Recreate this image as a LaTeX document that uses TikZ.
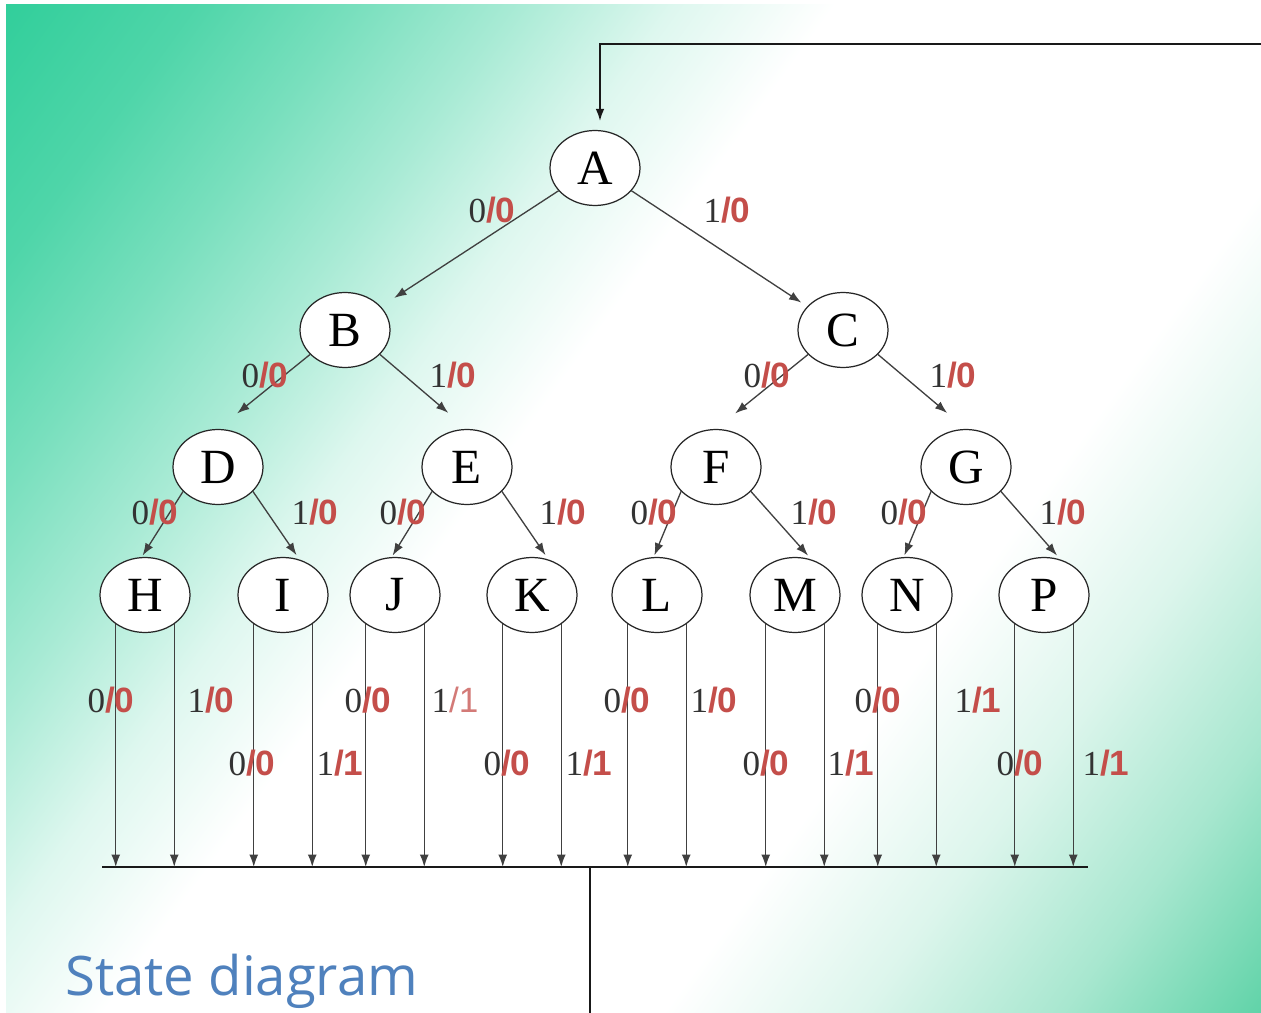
\documentclass[tikz,border=0pt]{standalone}
\usepackage{fontspec}
\setmainfont{Liberation Serif}
\newfontfamily\etichetta{Liberation Sans}
\newfontfamily\titolofont{Open Sans}
\usetikzlibrary{shapes.geometric,arrows.meta}

\definecolor{verde}{RGB}{48,206,154}
\definecolor{verdechiaro}{RGB}{96,211,168}
\definecolor{rosso}{RGB}{196,78,74}
\definecolor{grigio}{RGB}{51,51,51}
\definecolor{blu}{RGB}{79,129,189}

% la parte visibile della sfumatura va da 25bp a 75bp
\pgfdeclarehorizontalshading{sfondo}{100bp}{color(0bp)=(verde); color(25bp)=(verde);
  color(30bp)=(verde!85!white); color(34bp)=(verde!65!white); color(38bp)=(verde!42!white);
  color(42bp)=(verde!16!white); color(46bp)=(white); color(60bp)=(white);
  color(65bp)=(verdechiaro!22!white); color(70bp)=(verdechiaro!55!white);
  color(75bp)=(verdechiaro); color(100bp)=(verdechiaro)}

% ingresso/uscita: cifra in serif, "/uscita" in rosso
\newcommand{\io}[2]{{\color{grigio}#1}{\etichetta\bfseries\color{rosso}/#2}}
\newcommand{\iochiaro}[2]{{\color{grigio}#1}{\etichetta\color{rosso!75}/#2}}

\begin{document}
\begin{tikzpicture}[
    x=0.02cm,y=-0.02cm,
    stato/.style={ellipse,draw=black!85,line width=0.7pt,fill=white,
      minimum width=1.8cm,minimum height=1.5cm,inner sep=0pt,
      font=\fontsize{28}{30}\selectfont},
    freccia/.style={draw=black!75,line width=0.75pt,-{Latex[length=7pt,width=5pt]}},
    uscita/.style={font=\fontsize{20}{22}\selectfont,inner sep=0pt},
    linea/.style={draw=black!90,line width=1.1pt}]

  \useasboundingbox (0,0) rectangle (1261,1013);

  % ---- sfondo sfumato --------------------------------------------------------
  \fill[white] (0,0) rectangle (1261,1013);
  \begin{scope}
    \clip (6,5) rectangle (1261,1013);
    \begin{scope}[transform canvas={rotate=-36}]
      \shade[shading=sfondo,overlay] (0,-760) rectangle (1616,840);
    \end{scope}
  \end{scope}

  % ---- stati ------------------------------------------------------------------
  \node[stato] (A) at (595,168) {A};
  \node[stato] (B) at (345,330) {B};
  \node[stato] (C) at (843,330) {C};
  \node[stato] (D) at (218,467) {D};
  \node[stato] (E) at (467,467) {E};
  \node[stato] (F) at (716,467) {F};
  \node[stato] (G) at (966,467) {G};
  \foreach \n/\x in {H/145,I/283,J/395,K/532,L/657,M/795,N/907,P/1044}
    \node[stato] (\n) at (\x,595) {\n};

  % ---- transizioni dell'albero --------------------------------------------------
  \draw[freccia,shorten >=9pt] (A.-148) -- (B);
  \draw[freccia,shorten >=4pt] (A.-32) -- (C);
  \foreach \p/\a/\b in {B/D/E,C/F/G} {
    \draw[freccia,shorten >=14pt] (\p.-145) -- (\a.north);
    \draw[freccia,shorten >=14pt] (\p.-35) -- (\b.north);
  }
  \foreach \p/\a/\b in {D/H/I,E/J/K,F/L/M,G/N/P} {
    \draw[freccia,shorten >=1pt] (\p.-145) -- (\a.95);
    \draw[freccia,shorten >=3pt] (\p.-35) -- (\b.65);
  }

  \node[uscita] (lAB) at (492,210) {\io00};
  \node[uscita] (lAC) at (727,210) {\io10};
  \foreach \nome/\x/\i in {lBD/265/0,lBE/453/1,lCF/767/0,lCG/953/1}
    \node[uscita] (\nome) at (\x,375) {\io\i0};
  \foreach \nome/\x/\i in {lDH/155/0,lDI/315/1,lEJ/403/0,lEK/563/1,
                           lFL/654/0,lFM/814/1,lGN/904/0,lGP/1063/1}
    \node[uscita] (\nome) at (\x,512) {\io\i0};

  % ---- bus di ritorno ---------------------------------------------------------
  \coordinate (busL) at (102,867);
  \coordinate (busR) at (1088,867);
  \coordinate (busJ) at (590,867);
  \coordinate (fuori) at (590,1013);
  \coordinate (inR) at (1261,44);
  \coordinate (inA) at (600,44);
  \draw[linea] (busL) -- (busR);
  \draw[linea] (busJ) -- (fuori);
  \draw[linea,-{Latex[length=7pt,width=5pt]},shorten >=5pt] (inR) -- (inA) -- (inA |- A.north);

  \foreach \n in {H,I,J,K,L,M,N,P} {
    \draw[freccia] (\n.-135) -- (\n.-135 |- busL);
    \draw[freccia] (\n.-45) -- (\n.-45 |- busL);
  }

  % ---- uscite delle foglie ------------------------------------------------------
  \node[uscita] (oH0) at (111,700) {\io00};
  \node[uscita] (oH1) at (211,700) {\io10};
  \node[uscita] (oI0) at (252,763) {\io00};
  \node[uscita] (oI1) at (340,763) {\io11};
  \node[uscita] (oJ0) at (368,700) {\io00};
  \node[uscita] (oJ1) at (455,700) {\iochiaro11};
  \node[uscita] (oK0) at (507,763) {\io00};
  \node[uscita] (oK1) at (589,763) {\io11};
  \node[uscita] (oL0) at (627,700) {\io00};
  \node[uscita] (oL1) at (714,700) {\io10};
  \node[uscita] (oM0) at (766,763) {\io00};
  \node[uscita] (oM1) at (851,763) {\io11};
  \node[uscita] (oN0) at (878,700) {\io00};
  \node[uscita] (oN1) at (978,700) {\io11};
  \node[uscita] (oP0) at (1020,763) {\io00};
  \node[uscita] (oP1) at (1106,763) {\io11};

  \node[font=\titolofont\fontsize{31}{34}\selectfont,text=blu,anchor=base west,inner sep=0pt]
    (titolo) at (65,995) {State diagram};

\end{tikzpicture}
\end{document}
